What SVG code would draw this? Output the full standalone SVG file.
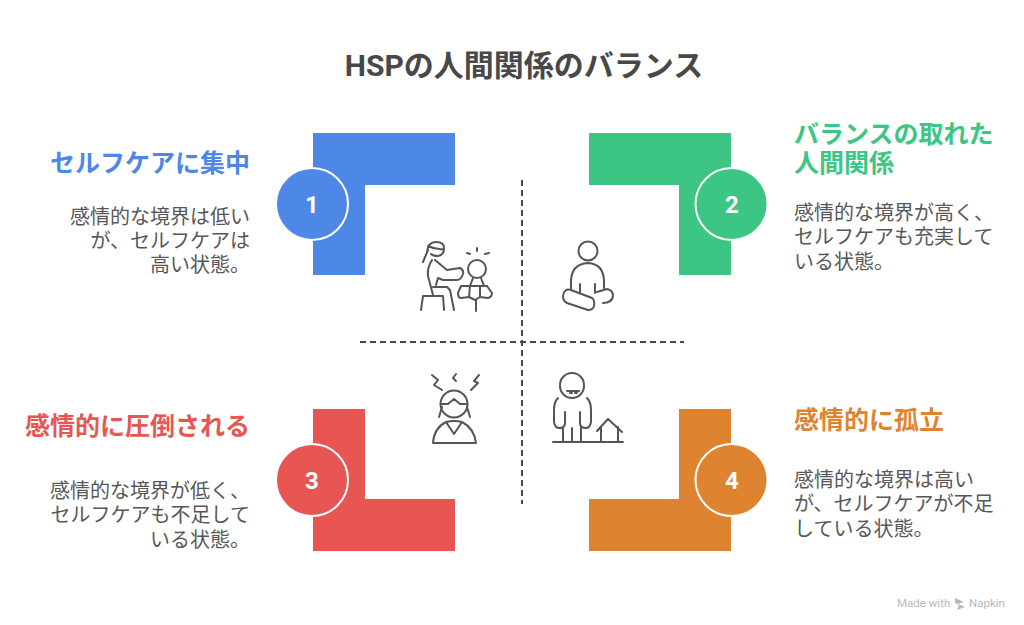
<svg xmlns="http://www.w3.org/2000/svg" width="1024" height="625" viewBox="0 0 1024 625">
<style>
text{font-family:"Roboto","Noto Sans CJK JP",sans-serif;fill:#484848}
.t{font-size:20px;fill:#575757}
.h{font-size:25px;font-weight:700}
.n{font-size:24px;font-weight:700;fill:#fff;text-anchor:middle}
.e{text-anchor:end}
.c{stroke:#fff;stroke-width:2}
.i{fill:none;stroke:#555;stroke-width:2;stroke-linecap:round;stroke-linejoin:round}
.d{fill:none;stroke:#484848;stroke-width:2;stroke-dasharray:6 4}
</style>
<rect width="1024" height="625" fill="#fff"/>
<text id="title" x="524" y="76" text-anchor="middle" style="font-size:30px;font-weight:700">HSPの人間関係のバランス</text>
<g id="connectors">
<path class="d" d="M522 180V504"/>
<path class="d" d="M360 342H684"/>
</g>
<g id="node1">
<path fill="#4e88e7" d="M313 133H455V185H365V275H313Z"/>
<circle class="c" cx="312" cy="204" r="36" fill="#4e88e7"/>
<text class="n" x="312" y="213">1</text>
<text class="h e" x="250" y="172" style="fill:#4e88e7">セルフケアに集中</text>
<text class="t e" x="250" y="224">感情的な境界は低い</text>
<text class="t e" x="250" y="248">が、セルフケアは</text>
<text class="t e" x="250" y="272">高い状態。</text>
<path class="i" d="M423 262L428 250M427 252Q428 242 436 242Q444 242 444 248Q444 255 438 256Q433 256 431 254M428 246Q436 250 444 249M432 260Q427 268 428 276L433 295M435 260L447 270Q453 269 460 268Q464 270 463 274Q461 280 457 280H443L438 278L436 285M433 287H447L450 290L454 310M421 310L423 296H443L444 310"/>
<g transform="translate(1 0)">
<circle class="i" cx="476" cy="269" r="9"/>
<path class="i" d="M466 253L469 254M476 248V251M488 253L484 254M472 278L469 286M480 278L483 286M460 286H486M460 286L457 293Q457 298 460 298L468 297L474 300L479 297L487 298Q491 297 491 293L486 286M469 286L468 297M479 286L479 297M475 300V311"/>
</g>
</g>
<g id="node2">
<path fill="#3cc583" d="M589 133H731V275H679V185H589Z"/>
<circle class="c" cx="731.500" cy="204" r="36" fill="#3cc583"/>
<text class="n" x="732" y="213">2</text>
<text class="h" x="794" y="143" style="fill:#3cc583">バランスの取れた</text>
<text class="h" x="794" y="172" style="fill:#3cc583">人間関係</text>
<text class="t" x="794" y="220">感情的な境界が高く、</text>
<text class="t" x="794" y="244">セルフケアも充実して</text>
<text class="t" x="794" y="269">いる状態。</text>
<circle class="i" cx="588" cy="251" r="9.5"/>
<path class="i" d="M571 290V282Q571 264 588 263Q604 264 604 282V288M580 284V293M595 284V293M571 290Q564 288 563 296Q563 301 567 303L588 310Q593 310 594 306Q595 300 592 298L571 290M597 292L607 289Q613 290 613 296Q612 303 603 303"/>
</g>
<g id="node3">
<path fill="#e85654" d="M313 409H365V499H455V551H313Z"/>
<circle class="c" cx="312" cy="480" r="36" fill="#e85654"/>
<text class="n" x="312" y="489">3</text>
<text class="h e" x="250" y="435" style="fill:#e85654">感情的に圧倒される</text>
<text class="t e" x="250" y="498">感情的な境界が低く、</text>
<text class="t e" x="250" y="522">セルフケアも不足して</text>
<text class="t e" x="250" y="547">いる状態。</text>
<circle class="i" cx="454" cy="404" r="13.500"/>
<path class="i" d="M441 404H448L454 399L460 404H467M442 407L439 417M467 407L470 417M433 443Q434 428 446 422Q454 420 462 422Q474 428 476 443ZM446 422L454 434L462 422M432 375L438 380L434 385L442 390M456 374L453 378L456 381M479 375L474 381L478 383L471 390"/>
</g>
<g id="node4">
<path fill="#de8431" d="M679 409H731V551H589V499H679Z"/>
<circle class="c" cx="731.500" cy="480" r="36" fill="#de8431"/>
<text class="n" x="732" y="489">4</text>
<text class="h" x="794" y="429" style="fill:#de8431">感情的に孤立</text>
<text class="t" x="794" y="487">感情的な境界は高い</text>
<text class="t" x="794" y="511">が、セルフケアが不足</text>
<text class="t" x="794" y="536">している状態。</text>
<rect class="i" x="560" y="373" width="24" height="25" rx="12"/>
<path class="i" d="M567 391H579M570 393H572M575 393H577M558 398Q554 402 554 410V422Q555 428 559 428Q565 428 565 423V412M587 398Q591 402 591 410V422Q590 428 586 428Q580 428 580 423V412M563 428V441M572 428V441M581 428V441M553 442H623M597 431L608 419L622 432M601 427V441M618 427V441"/>
</g>
<g id="watermark">
<text x="897" y="607" style="font-size:11.500px;fill:#b8b8b8">Made with</text>
<path d="M955 598L964 602L958 604L965 607L957 610L959 605L955 603Z" fill="#b8b8b8"/>
<text x="969" y="607" style="font-size:11.500px;fill:#b8b8b8">Napkin</text>
</g>
</svg>
